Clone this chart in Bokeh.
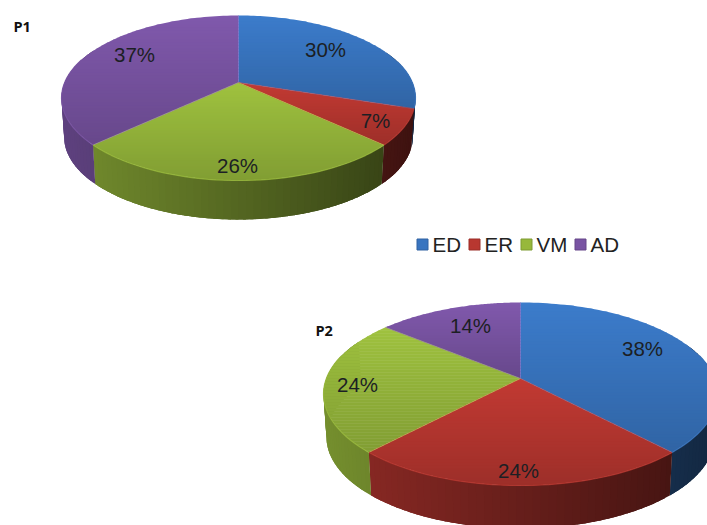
import numpy as np
from bokeh.core.properties import value
from bokeh.embed import file_html
from bokeh.models import Range1d
from bokeh.plotting import figure
from bokeh.resources import INLINE

# Shares per slice, clockwise from twelve o'clock
categories = ["ED", "ER", "VM", "AD"]
p1_values = [30, 7, 26, 37]
p2_values = [38, 24, 24, 14]
base_colors = ["#3C7CCB", "#C23A33", "#9FC23F", "#8059AC"]

# Geometry of the two tilted pies, in page pixels
P1_GEOM = dict(hx=238, hy=82, up=67, down=98, half_w=177, depth=39)
P2_GEOM = dict(hx=520, hy=378, up=76, down=107, half_w=197, depth=43)

# Label centres, in slice order
P1_LABELS = [(325, 49), (375, 120), (237, 165), (134, 54)]
P2_LABELS = [(642, 348), (518, 470), (357, 384), (470, 325)]

LEGEND_MARKS = [422, 474, 526, 580]
LEGEND_TEXT = [432, 484, 536, 590]
INK = "#1c1f24"
FONT = value("Liberation Sans")


def rgb(color):
    return np.array([int(color[i:i + 2], 16) for i in (1, 3, 5)], float)


def shade(color, factor):
    c = np.clip(rgb(color) * factor, 0, 255).astype(int)
    return "#%02x%02x%02x" % tuple(c)


def rim(theta, g):
    """Perspective projection of a point on the pie's circular edge."""
    k = (g["down"] - g["up"]) / (g["down"] + g["up"])
    b = g["up"] * (1 + k)
    a = g["half_w"] * np.sqrt(1 - k * k)
    x, y = np.sin(theta), np.cos(theta)
    w = 1 + k * y
    return g["hx"] + a * x / w, g["hy"] - b * y / w


def clip_band(poly, y0, y1):
    """Clip a polygon to the horizontal band y0..y1."""
    def clip(points, inside, cross):
        out = []
        for i, cur in enumerate(points):
            prev = points[i - 1]
            if inside(cur):
                if not inside(prev):
                    out.append(cross(prev, cur))
                out.append(cur)
            elif inside(prev):
                out.append(cross(prev, cur))
        return out

    def at(level):
        def cross(p, q):
            s = (level - p[1]) / (q[1] - p[1])
            return (p[0] + s * (q[0] - p[0]), level)
        return cross

    pts = clip(poly, lambda p: p[1] >= y0, at(y0))
    if pts:
        pts = clip(pts, lambda p: p[1] <= y1, at(y1))
    return pts


def draw_pie(p, values, g):
    edges = np.cumsum([0] + list(values)) / sum(values) * 2 * np.pi
    wall_x, wall_y, wall_c = [], [], []
    top_x, top_y, top_c = [], [], []
    line_x, line_y, line_c = [], [], []
    sep_x, sep_y, sep_c = [], [], []

    for start, stop, color in zip(edges[:-1], edges[1:], base_colors):
        # Outer wall: overlapping panels whose tone falls from left to right
        n = max(int((stop - start) / np.radians(2)), 1)
        ts = np.linspace(start, stop, n + 1)
        for t0, t1 in zip(ts[:-1], ts[1:]):
            if np.cos((t0 + t1) / 2) > 0.4:
                continue
            tt = np.linspace(t0, min(t1 + 0.05, stop), 5)
            x, y = rim(tt, g)
            bx = g["hx"] + (x - g["hx"]) * 0.985
            pos = (rim((t0 + t1) / 2, g)[0] - g["hx"]) / g["half_w"]
            wall_x.append(list(x) + list(bx[::-1]))
            wall_y.append(list(y) + list((y + g["depth"])[::-1]))
            wall_c.append(shade(color, 0.53 - 0.21 * pos))

        # Top face: horizontal bands with a gentle vertical fade
        xs, ys = rim(np.linspace(start, stop, 90), g)
        poly = [(g["hx"], g["hy"])] + list(zip(xs, ys))
        low, high = min(q[1] for q in poly), max(q[1] for q in poly)
        for y in np.arange(low, high, 3.0):
            band = clip_band(poly, y, y + 3.5)
            if len(band) >= 3:
                f = 1.0 - 0.19 * (y - low) / max(high - low, 1)
                top_x.append([q[0] for q in band])
                top_y.append([q[1] for q in band])
                top_c.append(shade(color, f))

        # Faint light edge on the straight sides of each slice
        sep_x.append([xs[0], g["hx"], xs[-1]])
        sep_y.append([ys[0], g["hy"], ys[-1]])
        sep_c.append(shade(color, 1.1))

        # Lit edge along the front of the top face
        front = ts[np.cos(ts) < 0.3]
        if len(front) > 1:
            fx, fy = rim(front, g)
            line_x.append(list(fx))
            line_y.append(list(fy))
            line_c.append(shade(color, 0.95))

    p.patches(wall_x, wall_y, fill_color=wall_c, line_color=None)
    p.patches(top_x, top_y, fill_color=top_c, line_color=None)
    p.multi_line(sep_x, sep_y, line_color=sep_c, line_width=0.8, line_alpha=0.5)
    if line_x:
        p.multi_line(line_x, line_y, line_color=line_c, line_width=1.2, line_alpha=0.8)


p = figure(width=707, height=525, output_backend="svg", toolbar_location=None,
           x_range=Range1d(0, 707), y_range=Range1d(525, 0), min_border=0,
           outline_line_color=None, background_fill_color="white")
p.axis.visible = False
p.grid.visible = False

draw_pie(p, p1_values, P1_GEOM)
draw_pie(p, p2_values, P2_GEOM)

# Percentage labels
for vals, spots in ((p1_values, P1_LABELS), (p2_values, P2_LABELS)):
    p.text([s[0] for s in spots], [s[1] for s in spots], text=[f"{v}%" for v in vals],
           text_font=FONT, text_font_size="20.5px", text_color=INK,
           text_align="center", text_baseline="middle")

# Panel tags
p.text([13, 315], [26, 330], text=["P1", "P2"], text_font=value("Open Sans"),
       text_font_style="bold", text_font_size="14.5px", text_color="#111111",
       text_align="left", text_baseline="middle")

# Shared legend
p.scatter(LEGEND_MARKS, [244] * 4, marker="square", size=11,
          fill_color=[shade(c, 0.95) for c in base_colors],
          line_color=[shade(c, 0.8) for c in base_colors], line_width=1)
p.text(LEGEND_TEXT, [244] * 4, text=categories, text_font=FONT, text_font_size="20.5px",
       text_color="#222222", text_align="left", text_baseline="middle")

open("out.html", "w").write(file_html(p, INLINE))
